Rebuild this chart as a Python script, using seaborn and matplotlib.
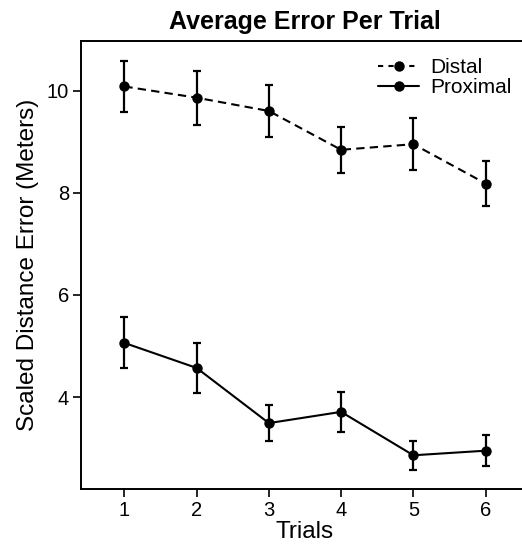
import numpy as np
import pandas as pd
import seaborn as sns
import matplotlib.pyplot as plt
from matplotlib.lines import Line2D

sns.set_style("ticks")
plt.rcParams['font.family'] = ['Liberation Sans', 'DejaVu Sans']
plt.rcParams['text.color'] = 'black'
plt.rcParams['axes.labelcolor'] = 'black'
plt.rcParams['xtick.color'] = 'black'
plt.rcParams['ytick.color'] = 'black'

trials = [1, 2, 3, 4, 5, 6]
distal_mean = [10.08, 9.86, 9.60, 8.84, 8.95, 8.18]
distal_err = [0.50, 0.53, 0.50, 0.45, 0.51, 0.44]
proximal_mean = [5.06, 4.57, 3.49, 3.71, 2.86, 2.95]
proximal_err = [0.50, 0.49, 0.36, 0.39, 0.28, 0.30]

df = pd.DataFrame({
    'trial': trials * 2,
    'error': distal_mean + proximal_mean,
    'err': distal_err + proximal_err,
    'group': ['Distal'] * 6 + ['Proximal'] * 6,
})

fig = plt.figure(figsize=(5.22, 5.57), dpi=100)
ax = fig.add_axes([81/522, 68/557, 448/522, 448/557])

sns.lineplot(data=df, x='trial', y='error', style='group', ax=ax,
             color='black', linewidth=1.5, markers={'Distal': 'o', 'Proximal': 'o'},
             markersize=7.5, markeredgewidth=0,
             dashes={'Distal': (4, 2.5), 'Proximal': ''}, legend=False)

for g, sub in df.groupby('group'):
    ax.errorbar(sub['trial'], sub['error'], yerr=sub['err'], fmt='none',
                ecolor='black', elinewidth=1.6, capsize=3, capthick=1.6)

ax.set_xlim(0.4, 6.6)
ax.set_ylim(2.2, 10.97)
ax.set_xticks(trials)
ax.set_yticks([4, 6, 8, 10])
ax.tick_params(direction='out', length=5.5, width=1.2, labelsize=14.5, color='black', pad=3)
for s in ax.spines.values():
    s.set_linewidth(1.4)
    s.set_color('black')
ax.spines['right'].set_visible(False)

ax.set_xlabel('Trials', fontsize=17.5, labelpad=1)
ax.set_ylabel('Scaled Distance Error (Meters)', fontsize=17.5, labelpad=6)
ax.set_title('Average Error Per Trial', fontsize=18, fontweight='bold', pad=9)

handles = [
    Line2D([0], [0], color='black', lw=1.5, dashes=(2.5, 2.5), marker='o', markersize=7.5, markeredgewidth=0),
    Line2D([0], [0], color='black', lw=1.5, marker='o', markersize=7.5, markeredgewidth=0),
]
ax.legend(handles, ['Distal', 'Proximal'], loc='upper left', bbox_to_anchor=(0.63, 0.995),
          frameon=False, fontsize=15, handlelength=2.0, handletextpad=0.5,
          labelspacing=0.05, borderaxespad=0.3)

fig.savefig('out.png', dpi=100)
